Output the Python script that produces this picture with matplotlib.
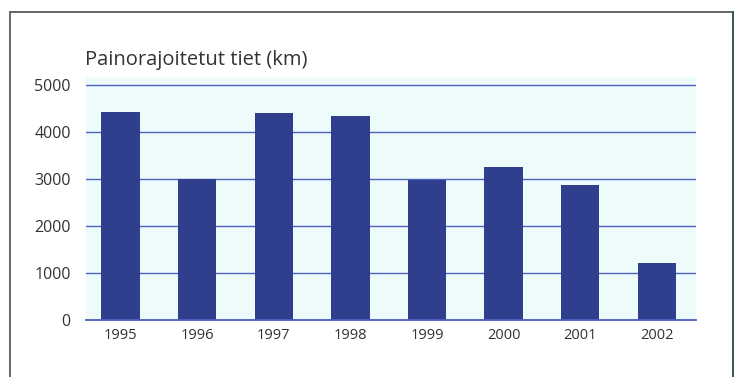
import matplotlib
matplotlib.use("Agg")
import matplotlib.pyplot as plt
from matplotlib.lines import Line2D

years = ["1995", "1996", "1997", "1998", "1999", "2000", "2001", "2002"]
km = [4420, 2990, 4400, 4330, 2970, 3250, 2870, 1200]
y_ticks = [0, 1000, 2000, 3000, 4000, 5000]
title = "Painorajoitetut tiet (km)"

plt.rcParams["font.family"] = ["Open Sans", "DejaVu Sans"]

W, H = 738, 377
fig = plt.figure(figsize=(W / 100, H / 100), dpi=100)
fig.patch.set_facecolor("white")

# panel frame around the chart
def fx(px):
    return px / W

def fy(py):
    return 1 - py / H

frame_kw = dict(transform=fig.transFigure, linewidth=1.4)
fig.add_artist(Line2D([fx(10), fx(10)], [fy(12), 0], color="#666666", **frame_kw))
fig.add_artist(Line2D([fx(10), fx(733)], [fy(12), fy(12)], color="#666666", **frame_kw))
fig.add_artist(Line2D([fx(733), fx(733)], [fy(12), 0], color="#2f5a4e", **frame_kw))

left, right = 86, 696
bottom, top = 320, 77
ax = fig.add_axes([fx(left), fy(bottom), (right - left) / W, (bottom - top) / H])
ax.set_facecolor("#edfbfb")

x = list(range(len(years)))
ax.bar(x, km, width=0.5, color="#2f3f8e", zorder=3)

ax.set_xlim(-0.45, 7.51)
ax.set_ylim(0, 5160)
ax.set_yticks(y_ticks)
ax.set_yticklabels([str(v) for v in y_ticks], fontsize=11.5, color="#333333")
ax.set_xticks(x)
ax.set_xticklabels(years, fontsize=10.5, color="#333333")
ax.tick_params(axis="both", length=0)
ax.tick_params(axis="y", pad=11)
ax.tick_params(axis="x", pad=6)

for v in y_ticks:
    ax.axhline(v, color="#4f60c0", linewidth=1.0, zorder=2)
# baseline stays visible on top of the bars
ax.axhline(0, color="#4f60c0", linewidth=1.3, zorder=4, clip_on=False)

for s in ax.spines.values():
    s.set_visible(False)

fig.text(fx(85), fy(65), title, fontsize=14.5, color="#333333", ha="left", va="baseline")

fig.savefig("out.png", dpi=100)
